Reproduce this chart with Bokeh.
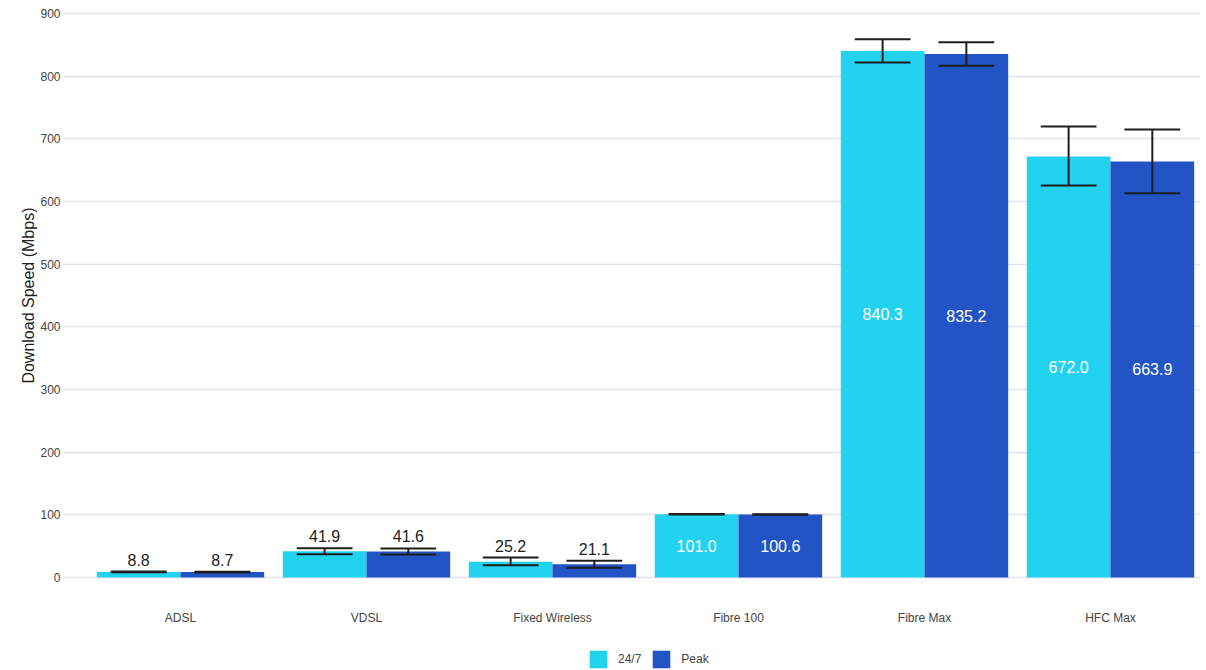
import numpy as np
from bokeh.plotting import figure
from bokeh.models import (Range1d, FixedTicker, Legend, LegendItem,
                          ColumnDataSource, Title)
from bokeh.core.properties import value
from bokeh.embed import file_html
from bokeh.resources import INLINE

# ---- data ----
categories = ["ADSL", "VDSL", "Fixed Wireless", "Fibre 100", "Fibre Max", "HFC Max"]
series_names = ["24/7", "Peak"]
speed_247 = [8.8, 41.9, 25.2, 101.0, 840.3, 672.0]
speed_peak = [8.7, 41.6, 21.1, 100.6, 835.2, 663.9]
lower_247 = [8.2, 37.2, 19.7, 100.6, 822.0, 625.5]
upper_247 = [9.4, 46.8, 31.9, 101.4, 859.0, 719.6]
lower_peak = [8.1, 36.7, 15.4, 100.2, 816.5, 613.0]
upper_peak = [9.3, 46.3, 26.6, 101.0, 854.0, 715.0]
y_ticks = [0, 100, 200, 300, 400, 500, 600, 700, 800, 900]
y_title = "Download Speed (Mbps)"

# ---- styles ----
COLORS = ["#23D2EE", "#2254C5"]
FONT = value("Liberation Sans")
BAR_W = 0.45
CAP_HALF = 0.15
ERR_COLOR = "#1e1e1e"

idx = np.arange(len(categories))

p = figure(width=1200, height=670,
           x_range=Range1d(-0.629, 5.484), y_range=Range1d(-148.4, 904.8),
           output_backend="svg", toolbar_location=None,
           min_border_left=63, min_border_right=0, min_border_top=10,
           min_border_bottom=0)
p.outline_line_color = None
p.background_fill_color = "white"
p.border_fill_color = "white"

# grid
p.xgrid.visible = False
p.ygrid.ticker = FixedTicker(ticks=y_ticks)
p.ygrid.grid_line_color = "#E1E3EE"
p.ygrid.grid_line_width = 1.5

# axes
p.yaxis.ticker = FixedTicker(ticks=y_ticks)
p.yaxis.major_label_standoff = 3
p.xaxis.ticker = FixedTicker(ticks=list(idx))
p.xaxis.major_label_overrides = {int(i): c for i, c in zip(idx, categories)}
p.xaxis.major_label_standoff = 33
p.xaxis.fixed_location = 0
for ax in (p.xaxis, p.yaxis):
    ax.axis_line_color = None
    ax.major_tick_line_color = None
    ax.minor_tick_line_color = None
    ax.major_tick_out = 0
    ax.major_tick_in = 0
    ax.major_label_text_font = "Liberation Sans"
    ax.major_label_text_font_size = "12px"
    ax.major_label_text_color = "#444444"

p.add_layout(Title(text=y_title, align="right", offset=197, standoff=2,
                   text_font="Liberation Sans", text_font_size="16px",
                   text_font_style="normal", text_color="#222222"), "left")

renderers = []
data_sets = [
    (speed_247, lower_247, upper_247, -BAR_W / 2, COLORS[0]),
    (speed_peak, lower_peak, upper_peak, BAR_W / 2, COLORS[1]),
]
for vals, lo, hi, off, col in data_sets:
    x = idx + off
    src = ColumnDataSource(dict(x=x, top=vals, lo=lo, hi=hi,
                                xl=x - CAP_HALF, xr=x + CAP_HALF))
    r = p.vbar(x="x", top="top", bottom=0, width=BAR_W, source=src,
               fill_color=col, line_color=None)
    renderers.append(r)
    p.segment(x0="x", y0="lo", x1="x", y1="hi", source=src,
              line_color=ERR_COLOR, line_width=2)
    p.segment(x0="xl", y0="hi", x1="xr", y1="hi", source=src,
              line_color=ERR_COLOR, line_width=2)
    p.segment(x0="xl", y0="lo", x1="xr", y1="lo", source=src,
              line_color=ERR_COLOR, line_width=2)

    v = np.array(vals)
    inside = v > 90
    labels = [f"{a:.1f}" for a in vals]
    src_in = ColumnDataSource(dict(x=x[inside], y=v[inside] / 2,
                                   t=[l for l, k in zip(labels, inside) if k]))
    src_out = ColumnDataSource(dict(x=x[~inside], y=np.array(hi)[~inside],
                                    t=[l for l, k in zip(labels, inside) if not k]))
    p.text(x="x", y="y", text="t", source=src_in, text_font=FONT,
           text_font_size="16px", text_color="white",
           text_align="center", text_baseline="middle")
    p.text(x="x", y="y", text="t", source=src_out, text_font=FONT,
           text_font_size="16px", text_color="#222222",
           text_align="center", text_baseline="bottom", y_offset=-6)

legend = Legend(items=[LegendItem(label=n, renderers=[r])
                       for n, r in zip(series_names, renderers)],
                orientation="horizontal", location=(524, 0),
                glyph_width=22, glyph_height=22, label_standoff=9,
                spacing=9, padding=0, margin=0,
                label_text_font="Liberation Sans", label_text_font_size="12px",
                label_text_color="#444444",
                border_line_color=None, background_fill_alpha=0)
p.add_layout(legend, "center")

open("out.html", "w").write(file_html(p, INLINE))
